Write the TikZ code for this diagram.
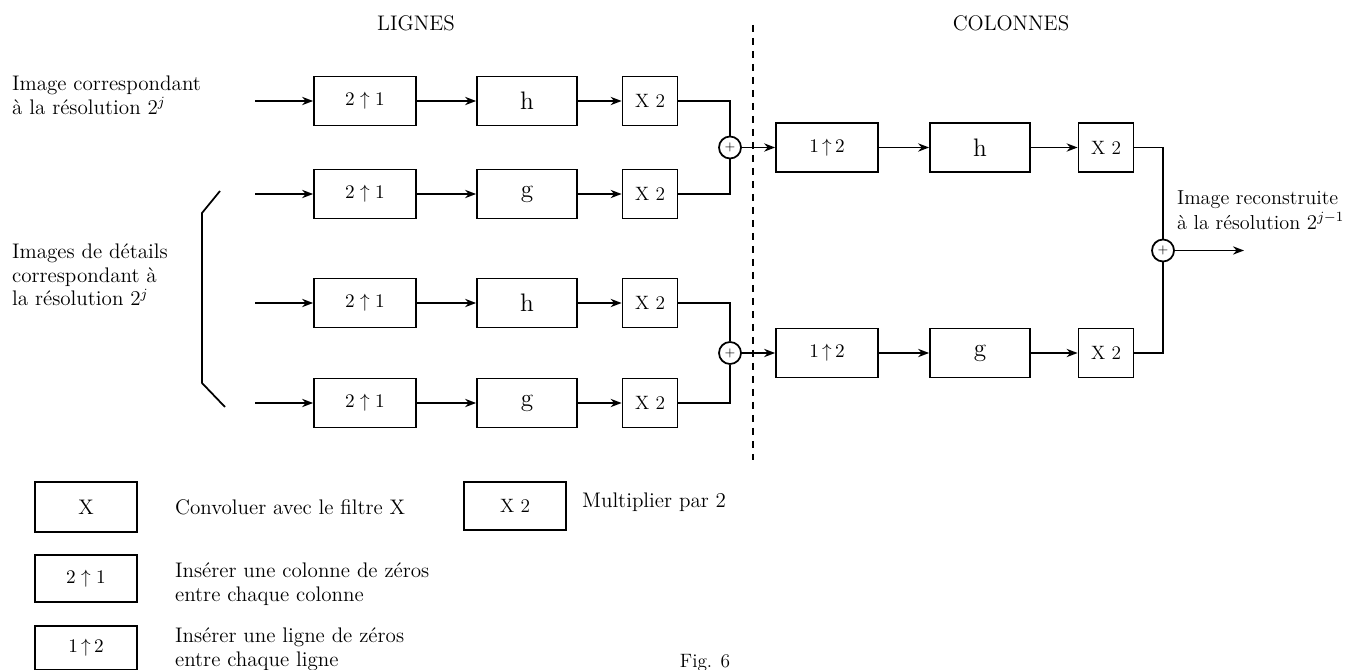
\documentclass[tikz,border=0pt]{standalone}
\usepackage{amsmath}
\usepackage{tikz}
\usetikzlibrary{arrows.meta}

\begin{document}
\begin{tikzpicture}[
        box/.style={draw, line width=1pt, minimum height=0.98cm, inner sep=0pt,
                    align=center, font=\fontsize{11}{13}\selectfont},
        upbox/.style={box, minimum width=2.04cm},
        filt/.style={box, minimum width=2cm, font=\Large},
        mulbox/.style={box, minimum width=1.1cm},
        sum/.style={draw, circle, line width=1pt, minimum size=0.44cm,
                    inner sep=0pt, font=\scriptsize},
        arr/.style={-{Stealth[length=2.2mm]}, line width=1pt},
        wire/.style={line width=1pt},
        txt/.style={anchor=west, align=left, inner sep=1pt, font=\fontsize{12}{13.5}\selectfont}
    ]
        \useasboundingbox (0,0) rectangle (27.04,-13.40);

        % titles
        \node[font=\large] (lig) at (8.32,-0.46) {LIGNES};
        \node[font=\large] (col) at (20.22,-0.46) {COLONNES};
        \draw[line width=1.2pt, dash pattern=on 0.14cm off 0.12cm] (15.06,-0.5) -- (15.06,-9.2);

        % inputs
        \node[txt] (imgin) at (0.20,-1.90) {Image correspondant\\à la résolution $2^j$};
        \node[txt] (imgdet) at (0.20,-5.50) {Images de détails\\correspondant à\\la résolution $2^j$};
        \draw[wire] (4.40,-3.82) -- (4.04,-4.26) -- (4.04,-7.66) -- (4.50,-8.14);
        \coordinate (in1) at (5.10,-2.02);
        \coordinate (in2) at (5.10,-3.88);
        \coordinate (in3) at (5.10,-6.06);
        \coordinate (in4) at (5.10,-8.06);

        % LIGNES
        \node[upbox] (up1) at (7.30,-2.02) {$2\uparrow1$};
        \node[filt] (f1) at (10.54,-2.02) {h};
        \node[mulbox] (m1) at (13.00,-2.02) {X 2};
        \node[upbox] (up2) at (7.30,-3.88) {$2\uparrow1$};
        \node[filt] (f2) at (10.54,-3.88) {g};
        \node[mulbox] (m2) at (13.00,-3.88) {X 2};
        \node[upbox] (up3) at (7.30,-6.06) {$2\uparrow1$};
        \node[filt] (f3) at (10.54,-6.06) {h};
        \node[mulbox] (m3) at (13.00,-6.06) {X 2};
        \node[upbox] (up4) at (7.30,-8.06) {$2\uparrow1$};
        \node[filt] (f4) at (10.54,-8.06) {g};
        \node[mulbox] (m4) at (13.00,-8.06) {X 2};
        \node[sum] (s1) at (14.60,-2.95) {+};
        \node[sum] (s2) at (14.60,-7.06) {+};

        % COLONNES
        \node[upbox] (cu1) at (16.54,-2.95) {$1\,{\uparrow}\,2$};
        \node[filt] (cf1) at (19.60,-2.95) {h};
        \node[mulbox] (cm1) at (22.12,-2.95) {X 2};
        \node[upbox] (cu2) at (16.54,-7.06) {$1\,{\uparrow}\,2$};
        \node[filt] (cf2) at (19.60,-7.06) {g};
        \node[mulbox] (cm2) at (22.12,-7.06) {X 2};
        \node[sum] (s3) at (23.26,-5.01) {+};
        \coordinate (out) at (24.88,-5.01);
        \node[txt, font=\fontsize{11.5}{14}\selectfont] (imgout) at (23.50,-4.20) {Image reconstruite\\à la résolution $2^{j-1}$};

        \draw[arr] (in1) -- (up1);
        \draw[arr] (up1) -- (f1);
        \draw[arr] (f1) -- (m1);
        \draw[arr] (in2) -- (up2);
        \draw[arr] (up2) -- (f2);
        \draw[arr] (f2) -- (m2);
        \draw[arr] (in3) -- (up3);
        \draw[arr] (up3) -- (f3);
        \draw[arr] (f3) -- (m3);
        \draw[arr] (in4) -- (up4);
        \draw[arr] (up4) -- (f4);
        \draw[arr] (f4) -- (m4);
        \draw[wire] (m1) -| (s1);
        \draw[wire] (m2) -| (s1);
        \draw[wire] (m3) -| (s2);
        \draw[wire] (m4) -| (s2);
        \draw[arr] (s1) -- (cu1);
        \draw[arr] (cu1) -- (cf1);
        \draw[arr] (cf1) -- (cm1);
        \draw[arr] (s2) -- (cu2);
        \draw[arr] (cu2) -- (cf2);
        \draw[arr] (cf2) -- (cm2);
        \draw[wire] (cm1) -| (s3);
        \draw[wire] (cm2) -| (s3);
        \draw[arr] (s3) -- (out);

        % legend
        \node[box, minimum width=2.04cm, minimum height=1cm, font=\large] (lx) at (1.72,-10.14) {X};
        \node[txt] (lxt) at (3.46,-10.14) {Convoluer avec le filtre X};
        \node[box, minimum width=2.04cm, minimum height=0.96cm] (lm) at (10.30,-10.12) {X 2};
        \node[txt] (lmt) at (11.60,-10.04) {Multiplier par 2};
        \node[box, minimum width=2.04cm, minimum height=0.94cm] (lu) at (1.72,-11.57) {$2\uparrow1$};
        \node[txt] (lut) at (3.46,-11.68) {Insérer une colonne de zéros\\entre chaque colonne};
        \node[box, minimum width=2.04cm, minimum height=0.88cm] (lc) at (1.72,-12.96) {$1\,{\uparrow}\,2$};
        \node[txt] (lct) at (3.46,-12.98) {Insérer une ligne de zéros\\entre chaque ligne};
        \node[font=\fontsize{11}{13}\selectfont] (fig) at (14.10,-13.26) {Fig. 6};
    \end{tikzpicture}
\end{document}
